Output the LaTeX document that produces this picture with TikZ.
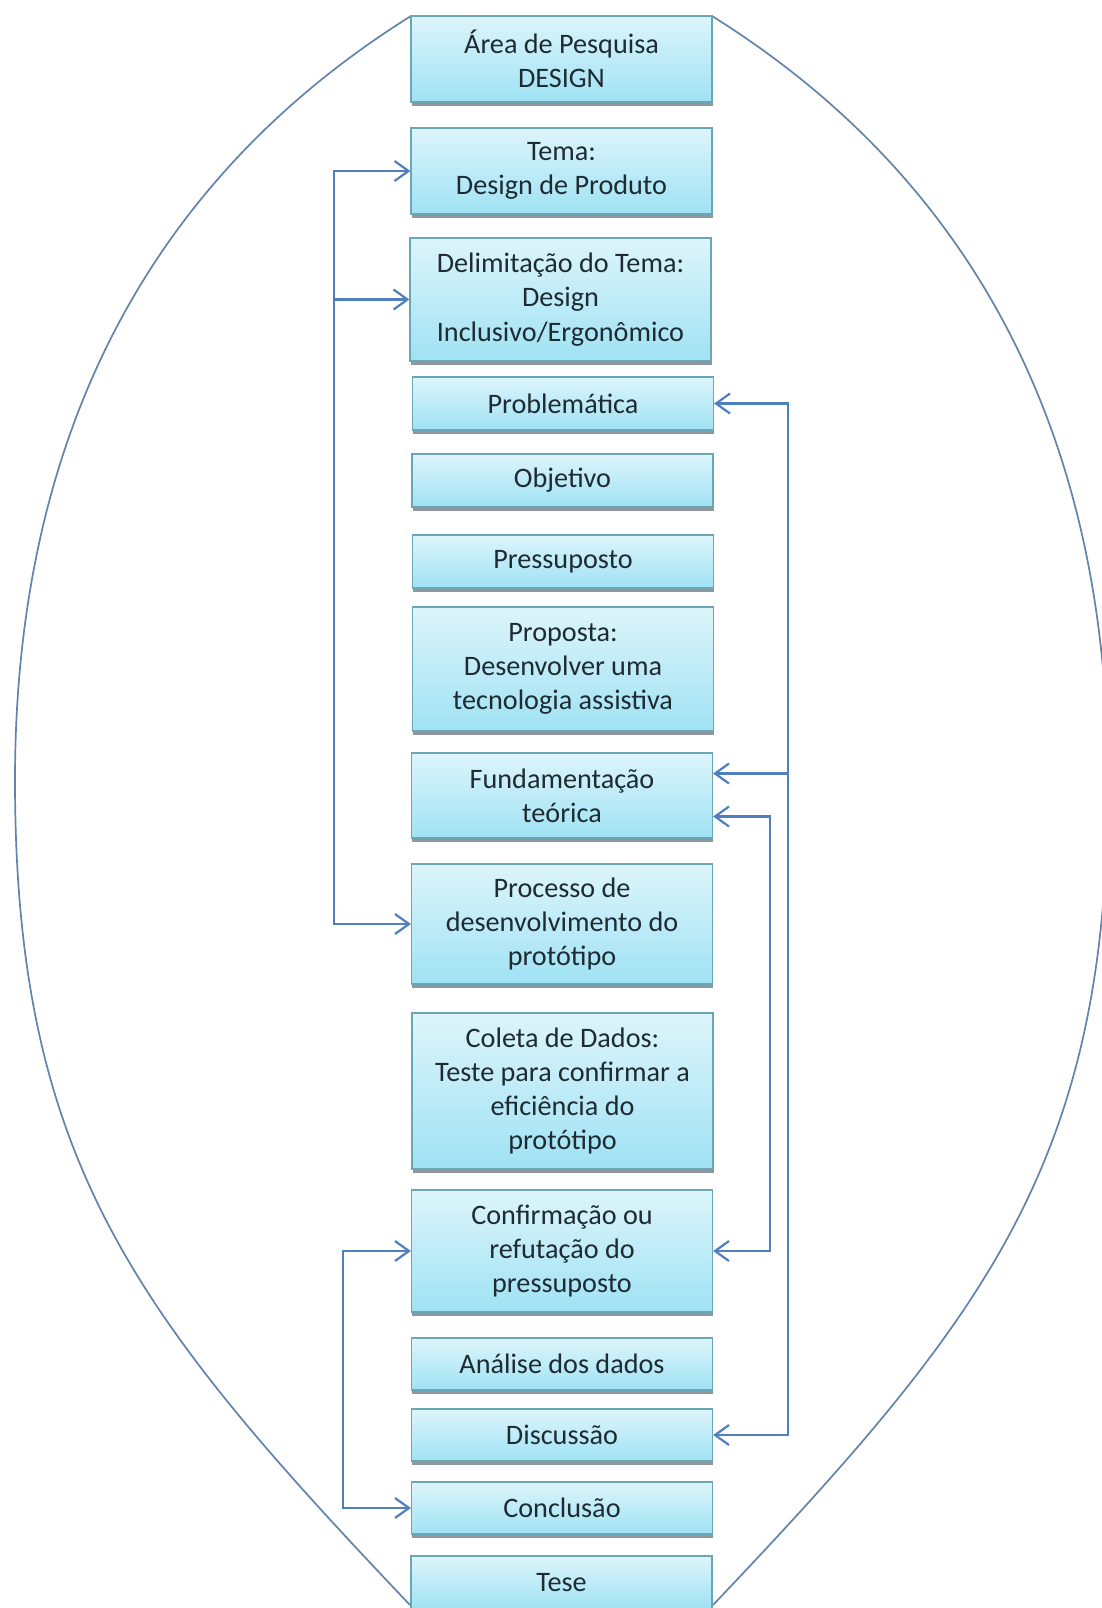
\documentclass[tikz,border=0pt]{standalone}
\usepackage{fontspec}
\setmainfont{Carlito}
\usetikzlibrary{arrows.meta,shadows,calc}

\definecolor{boxtop}{HTML}{DDF5FB}
\definecolor{boxbot}{HTML}{9FE2F4}
\definecolor{boxline}{HTML}{6AA6B5}
\definecolor{linkblue}{HTML}{4F7FBF}
\definecolor{ovalline}{HTML}{6284AA}
\definecolor{txt}{HTML}{1F2B33}
\definecolor{shade}{HTML}{8E989C}

\tikzset{
  box/.style={draw=boxline, line width=0.6pt, top color=boxtop, bottom color=boxbot,
    minimum width=150.5pt, inner sep=0pt, align=center, text=txt,
    font=\fontsize{14.1pt}{17.1pt}\selectfont,
    drop shadow={shadow xshift=0.4pt, shadow yshift=-2pt, fill=shade, opacity=1}},
  barb/.tip={Straight Barb[length=7pt,width=10pt,line width=1.1pt]},
  link/.style={draw=linkblue, line width=1.1pt, -barb},
  twoway/.style={draw=linkblue, line width=1.1pt, barb-barb},
  oval/.style={draw=ovalline, line width=0.85pt},
}

\begin{document}
\begin{tikzpicture}[x=0.5pt, y=-0.5pt]
\useasboundingbox (0,0) rectangle (1102,1608);

% the large egg-shaped oval behind the column of boxes
\begin{scope}
  \clip (0,0) rectangle (1102,1608);
  \draw[oval] (411,16) .. controls (139,186) and (15,450) .. (15,780)
                       .. controls (15,1160) and (134.5,1315) .. (410,1605);
  \draw[oval] (712,16) .. controls (984,186) and (1108,450) .. (1108,780)
                       .. controls (1108,1160) and (988.5,1315) .. (713,1605);
\end{scope}

% column of steps
\node[box, minimum height=43pt]   (area)  at (561.5,59)   {Área de Pesquisa\\DESIGN};
\node[box, minimum height=43pt]   (tema)  at (561.5,171)  {Tema:\\Design de Produto};
\node[box, minimum height=61.5pt] (delim) at (560.5,299.5){Delimitação do Tema:\\Design\\Inclusivo/Ergonômico};
\node[box, minimum height=26.5pt] (probl) at (563,403.5)  {Problemática};
\node[box, minimum height=26.5pt] (objet) at (562.5,480.5){Objetivo};
\node[box, minimum height=26.5pt] (press) at (563,561.5)  {Pressuposto};
\node[box, minimum height=62pt]   (propo) at (563,669)    {Proposta:\\Desenvolver uma\\tecnologia assistiva};
\node[box, minimum height=42.5pt] (funda) at (562,795.5)  {Fundamentação\\teórica};
\node[box, minimum height=60pt]   (proce) at (562,924)    {Processo de\\desenvolvimento do\\protótipo};
\node[box, minimum height=78pt]   (colet) at (562.5,1091) {Coleta de Dados:\\Teste para confirmar a\\eficiência do\\protótipo};
\node[box, minimum height=61pt]   (confi) at (562,1251)   {Confirmação ou\\refutação do\\pressuposto};
\node[box, minimum height=26pt]   (anali) at (562,1364)   {Análise dos dados};
\node[box, minimum height=26pt]   (discu) at (562,1435)   {Discussão};
\node[box, minimum height=26pt]   (concl) at (562,1508)   {Conclusão};
\node[box, minimum height=26.5pt] (tese)  at (561.5,1582.5){Tese};

% trunk positions of the feedback lines
\coordinate (lt) at (334,0);
\coordinate (ll) at (343,0);
\coordinate (ro) at (788,0);
\coordinate (ri) at (770,0);
\coordinate (fu1) at ($(funda.east)+(0,-22)$);
\coordinate (fu2) at ($(funda.east)+(0,21)$);

% left side loops
\draw[twoway] (tema.west) -| (proce.west -| lt) -- (proce.west);
\draw[link] (delim.west -| lt) -- (delim.west);
\draw[twoway] (confi.west) -| (concl.west -| ll) -- (concl.west);

% right side loops
\draw[twoway] (probl.east) -| (discu.east -| ro) -- (discu.east);
\draw[link] (fu1 -| ro) -- (fu1);
\draw[twoway] (fu2) -| (confi.east -| ri) -- (confi.east);
\end{tikzpicture}
\end{document}
